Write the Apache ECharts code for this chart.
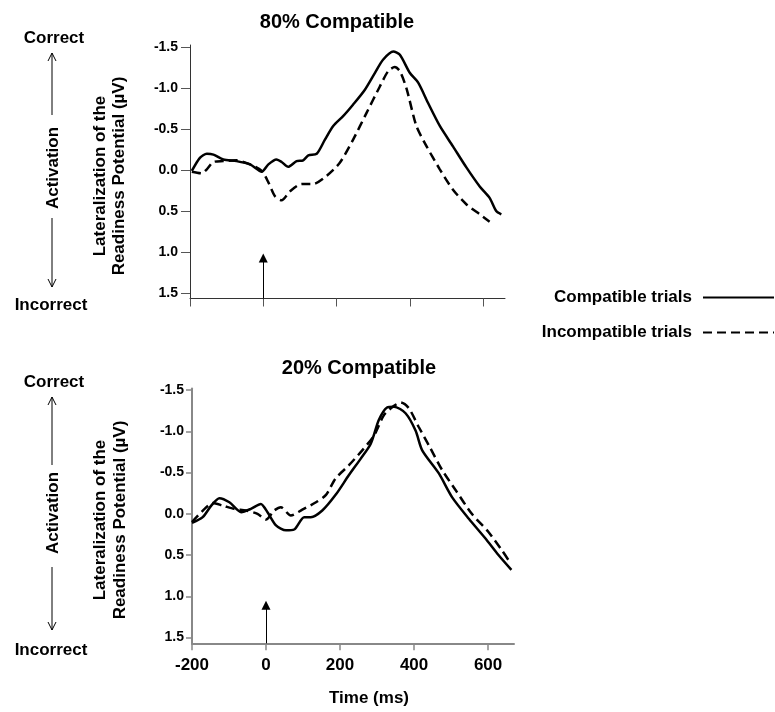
<!DOCTYPE html>
<html>
<head>
<meta charset="utf-8">
<script src="https://cdn.jsdelivr.net/npm/echarts@6/dist/echarts.min.js"></script>
<style>
  html, body { margin: 0; padding: 0; background: #fff; }
  #chart { width: 775px; height: 712px; }
</style>
</head>
<body>
<div id="chart"></div>
<script>
// [time (ms), LRP (µV)]
const topCompatible = [
  [-195, 0.01], [-173, -0.15], [-154, -0.2], [-136, -0.19], [-109, -0.13], [-73, -0.11],
  [-36, -0.07], [-4, 0.02], [14, -0.07], [36, -0.13], [50, -0.1], [68, -0.04], [91, -0.11],
  [109, -0.12], [123, -0.18], [146, -0.2], [168, -0.37], [191, -0.54], [218, -0.66],
  [245, -0.8], [277, -0.98], [305, -1.19], [327, -1.35], [355, -1.45], [373, -1.41],
  [400, -1.19], [423, -1.07], [450, -0.82], [482, -0.54], [518, -0.29], [555, -0.03],
  [591, 0.2], [618, 0.34], [636, 0.5], [650, 0.54]
];
const topIncompatible = [
  [-195, 0.02], [-168, 0.04], [-154, -0.01], [-136, -0.1], [-109, -0.11], [-73, -0.12],
  [-36, -0.07], [-4, 0.01], [14, 0.15], [32, 0.32], [50, 0.37], [73, 0.26], [105, 0.17],
  [136, 0.17], [173, 0.07], [209, -0.09], [245, -0.37], [282, -0.7], [318, -1.02],
  [341, -1.21], [359, -1.26], [373, -1.21], [391, -1.0], [418, -0.54], [446, -0.29],
  [482, -0.01], [518, 0.24], [555, 0.42], [591, 0.54], [618, 0.63]
];
const bottomCompatible = [
  [-200, 0.11], [-171, 0.04], [-148, -0.1], [-126, -0.19], [-99, -0.14], [-67, -0.02],
  [-41, -0.06], [-14, -0.12], [4, -0.02], [27, 0.14], [54, 0.2], [76, 0.19], [103, 0.04],
  [121, 0.04], [152, -0.04], [188, -0.23], [224, -0.47], [256, -0.67], [283, -0.85],
  [305, -1.14], [327, -1.29], [346, -1.3], [377, -1.22], [404, -1.01], [422, -0.77],
  [467, -0.49], [503, -0.2], [548, 0.06], [593, 0.3], [628, 0.5], [663, 0.68]
];
const bottomIncompatible = [
  [-200, 0.1], [-166, -0.06], [-144, -0.13], [-117, -0.1], [-86, -0.06], [-54, -0.04],
  [-23, 0], [0, 0.07], [22, -0.04], [40, -0.08], [67, 0.02], [98, -0.05], [135, -0.14],
  [162, -0.23], [188, -0.43], [224, -0.59], [260, -0.77], [292, -0.95], [319, -1.2],
  [346, -1.31], [364, -1.35], [386, -1.28], [413, -1.05], [440, -0.83], [476, -0.53],
  [512, -0.29], [556, 0], [601, 0.22], [637, 0.44], [655, 0.56]
];

const timeTicks = [-200, 0, 200, 400, 600];
const voltTicks = [-1.5, -1.0, -0.5, 0, 0.5, 1.0, 1.5];
const panelTitles = ["80% Compatible", "20% Compatible"];
const seriesNames = ["Compatible trials", "Incompatible trials"];
// stimulus onset arrow: [time, from, to]
const onsetArrowTop = [0, 1.57, 1.075];
const onsetArrowBottom = [0, 1.57, 1.11];

const FONT = '"Liberation Sans", Arial, sans-serif';

const chart = echarts.init(document.getElementById("chart"));

const onsetMark = (a) => ({
  silent: true,
  animation: false,
  symbol: ["none", "triangle"],
  symbolSize: 9,
  label: { show: false },
  lineStyle: { color: "#000", width: 1, type: "solid" },
  data: [[{ coord: [a[0], a[1]] }, { coord: [a[0], a[2]] }]],
});

const lineSeries = (name, data, idx, dashed, mark) => ({
  name,
  type: "line",
  xAxisIndex: idx,
  yAxisIndex: idx,
  data,
  symbol: "none",
  smooth: 0.25,
  animation: false,
  lineStyle: { color: "#000", width: 2.5, type: dashed ? [9, 5] : "solid" },
  itemStyle: { color: "#000" },
  markLine: mark ? onsetMark(mark) : undefined,
});

// little hand-drawn style arrow for the Correct / Incorrect annotation
const vArrow = (x, tipY, tailY) => {
  const dir = tipY < tailY ? 1 : -1;
  return {
    type: "group",
    children: [
      { type: "line", shape: { x1: x, y1: tipY, x2: x, y2: tailY }, style: { stroke: "#000", lineWidth: 1 } },
      {
        type: "polyline",
        shape: { points: [[x - 4, tipY + dir * 8], [x, tipY], [x + 4, tipY + dir * 8]] },
        style: { stroke: "#000", lineWidth: 1, fill: null },
      },
    ],
  };
};

const label = (text, x, y, size, rotate, lh) => ({
  type: "text",
  x,
  y,
  rotation: rotate ? Math.PI / 2 : 0,
  style: {
    text,
    font: `bold ${size}px ${FONT}`,
    fill: "#000",
    align: "center",
    verticalAlign: "middle",
    lineHeight: lh || size + 2,
  },
});

const legendBox = (name, top) => ({
  data: [name],
  right: 0,
  top,
  align: "right",
  padding: 0,
  itemWidth: 71,
  itemHeight: 14,
  selectedMode: false,
  itemStyle: { color: "transparent", borderColor: "transparent", borderWidth: 0, opacity: 0 },
  textStyle: { fontFamily: FONT, fontSize: 17, fontWeight: "bold", color: "#000", padding: [0, 6, 0, 0] },
});

const option = {
  backgroundColor: "#fff",
  title: [
    { text: panelTitles[0], left: 332, top: 7, textAlign: "center",
      textStyle: { fontFamily: FONT, fontSize: 20, fontWeight: "bold", color: "#000" } },
    { text: panelTitles[1], left: 354, top: 353, textAlign: "center",
      textStyle: { fontFamily: FONT, fontSize: 20, fontWeight: "bold", color: "#000" } },
  ],
  legend: [legendBox(seriesNames[0], 289), legendBox(seriesNames[1], 324)],
  grid: [
    { left: 190, top: 45, width: 315, height: 253.5 },
    { left: 192, top: 388.5, width: 322, height: 254.8 },
  ],
  xAxis: [
    {
      gridIndex: 0, type: "value", min: -200, max: 660,
      axisLine: { onZero: false, lineStyle: { color: "#333", width: 1 } },
      axisTick: { show: true, length: 8, customValues: timeTicks, lineStyle: { color: "#555" } },
      axisLabel: { show: false },
      splitLine: { show: false },
    },
    {
      gridIndex: 1, type: "value", min: -200, max: 670,
      axisLine: { onZero: false, lineStyle: { color: "#888", width: 2 } },
      axisTick: { show: true, length: 7, customValues: timeTicks, lineStyle: { color: "#888", width: 1.5 } },
      axisLabel: {
        customValues: timeTicks, margin: 14, color: "#000",
        fontFamily: FONT, fontSize: 17, fontWeight: "bold",
      },
      splitLine: { show: false },
    },
  ],
  yAxis: [
    {
      gridIndex: 0, type: "value", inverse: true, min: -1.53, max: 1.57,
      axisLine: { show: true, onZero: false, lineStyle: { color: "#333", width: 1 } },
      axisTick: { show: true, length: 9, customValues: voltTicks, lineStyle: { color: "#555" } },
      axisLabel: {
        customValues: voltTicks, margin: 12, color: "#000",
        fontFamily: FONT, fontSize: 14, fontWeight: "bold",
        formatter: (v) => v.toFixed(1),
      },
      splitLine: { show: false },
    },
    {
      gridIndex: 1, type: "value", inverse: true, min: -1.52, max: 1.57,
      axisLine: { show: true, onZero: false, lineStyle: { color: "#888", width: 2 } },
      axisTick: { show: true, length: 6, customValues: voltTicks, lineStyle: { color: "#888", width: 1.5 } },
      axisLabel: {
        customValues: voltTicks, margin: 8, color: "#000",
        fontFamily: FONT, fontSize: 14, fontWeight: "bold",
        formatter: (v) => v.toFixed(1),
      },
      splitLine: { show: false },
    },
  ],
  series: [
    lineSeries(seriesNames[0], topCompatible, 0, false, onsetArrowTop),
    lineSeries(seriesNames[1], topIncompatible, 0, true),
    lineSeries(seriesNames[0], bottomCompatible, 1, false, onsetArrowBottom),
    lineSeries(seriesNames[1], bottomIncompatible, 1, true),
  ],
  graphic: [
    // top panel annotations
    label("Correct", 54, 38, 17),
    vArrow(52, 53, 115),
    label("Activation", 53, 168, 17, true),
    vArrow(52, 287, 218),
    label("Incorrect", 51, 305, 17),
    label("Lateralization of the\nReadiness Potential (µV)", 109.5, 176, 17, true, 19),
    // bottom panel annotations
    label("Correct", 54, 382, 17),
    vArrow(52, 397, 465),
    label("Activation", 53, 513, 17, true),
    vArrow(52, 630, 567),
    label("Incorrect", 51, 650, 17),
    label("Lateralization of the\nReadiness Potential (µV)", 110.5, 520, 17, true, 20),
    label("Time (ms)", 369, 698, 17),
  ],
};

chart.setOption(option);
window.addEventListener("resize", () => chart.resize());
</script>
</body>
</html>
